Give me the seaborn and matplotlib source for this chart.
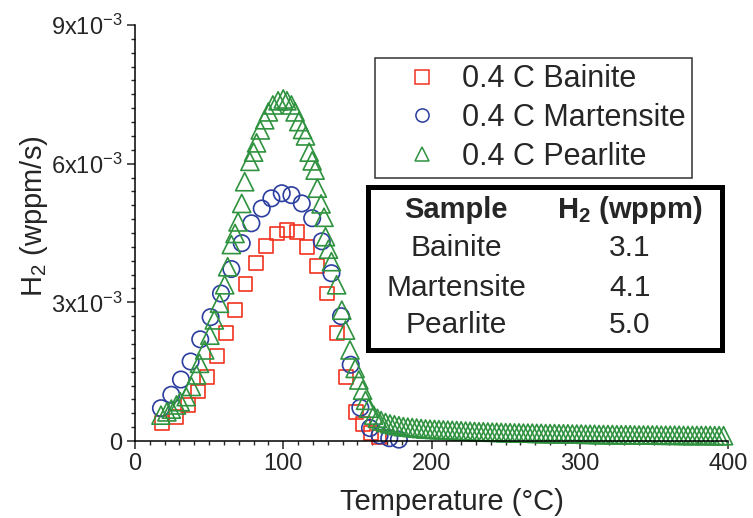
import matplotlib
matplotlib.use("Agg")
import matplotlib.pyplot as plt
from matplotlib.lines import Line2D
from matplotlib.patches import Rectangle
from matplotlib.ticker import MultipleLocator, FixedLocator
import seaborn as sns
import pandas as pd

# desorption rates, in 1e-3 wppm/s
bainite_T = [18.5, 27.5, 35.5, 42.5, 48.5, 55.5, 61.5, 67.5, 74.5, 81.5, 88.5, 95.5,
             102.5, 109, 116, 122.5, 129.5, 136.5, 142.5, 149, 154, 159, 164.5]
bainite_H = [0.39, 0.52, 0.78, 1.07, 1.39, 1.84, 2.33, 2.83, 3.40, 3.86, 4.22, 4.49,
             4.56, 4.52, 4.20, 3.79, 3.19, 2.33, 1.39, 0.63, 0.37, 0.17, 0.09]

martensite_T = [17.5, 24.5, 31, 37.5, 44, 51, 58, 65, 72, 78.5, 85.5, 92, 99,
                105.5, 112.5, 119.5, 126, 132.5, 139, 145.5, 152, 158.5, 165, 171.5, 178]
martensite_H = [0.71, 1.00, 1.33, 1.72, 2.20, 2.68, 3.19, 3.72, 4.28, 4.71, 5.03, 5.25, 5.36,
                5.32, 5.14, 4.82, 4.32, 3.63, 2.70, 1.65, 0.72, 0.28, 0.12, 0.06, 0.03]

pearlite_T = [17.5, 21.5, 24.5, 28, 30.5, 34.5, 38, 41.5, 43.5, 47, 50.5, 53.5, 57, 60.5,
              62.5, 65, 67.5, 69.5, 72, 74, 77.5, 80, 82, 84.5, 87.5, 90, 93, 96.5, 100,
              102.5, 105.5, 108, 110.5, 113, 115, 117.5, 119.5, 121.5, 123, 125.5, 127.5,
              128.5, 130.5, 132.5, 136, 139.5, 142, 145, 148.5, 151, 153.5, 155.5, 157.5,
              161, 163.5, 166,
              169, 172, 175, 178, 181, 184, 187, 190, 193, 196, 199, 202, 205, 208, 211,
              214, 217, 220, 223, 226, 229, 232, 235, 238, 241, 244, 247, 250, 253, 256,
              259, 262, 265, 268, 271, 274, 277, 280, 283, 286, 289, 292, 295, 298, 301,
              304, 307, 310, 313, 316, 319, 322, 325, 328, 331, 334, 337, 340, 343, 346,
              349, 352, 355, 358, 361, 364, 367, 370, 373, 376, 379, 382, 385, 388, 391,
              394, 397]
pearlite_H = [0.56, 0.63, 0.69, 0.78, 0.85, 0.96, 1.18, 1.43, 1.68, 1.97, 2.29, 2.62, 2.98, 3.38,
              3.77, 4.25, 4.49, 4.74, 5.14, 5.61, 6.05, 6.25, 6.45, 6.73, 6.95, 7.12, 7.27, 7.36, 7.40,
              7.36, 7.27, 7.12, 6.91, 6.74, 6.60, 6.25, 6.06, 5.86, 5.47, 5.13, 4.84,
              4.42, 4.15, 3.88, 3.38, 2.83, 2.40, 1.97, 1.57, 1.32, 1.10, 0.88, 0.71,
              0.56, 0.49, 0.44,
              0.40, 0.37, 0.35, 0.33, 0.31, 0.30, 0.29, 0.28, 0.27, 0.26, 0.255, 0.25, 0.245, 0.24, 0.235,
              0.23, 0.225, 0.22, 0.215, 0.21, 0.205, 0.20, 0.20, 0.195, 0.19, 0.19, 0.185, 0.18, 0.18, 0.175,
              0.175, 0.17, 0.17, 0.17, 0.165, 0.165, 0.16, 0.16, 0.16, 0.155, 0.155, 0.155, 0.15, 0.15, 0.15,
              0.145, 0.145, 0.145, 0.14, 0.14, 0.14, 0.14, 0.135, 0.135, 0.135, 0.135, 0.13, 0.13, 0.13, 0.13,
              0.13, 0.13, 0.125, 0.125, 0.125, 0.125, 0.125, 0.12, 0.12, 0.12, 0.12, 0.12, 0.12, 0.12, 0.115,
              0.115, 0.115]

series_labels = ["0.4 C Bainite", "0.4 C Martensite", "0.4 C Pearlite"]
scale = 1e-3

# inset table
table_samples = ["Bainite", "Martensite", "Pearlite"]
table_h2 = ["3.1", "4.1", "5.0"]

yticks = [0, 3e-3, 6e-3, 9e-3]
ytick_labels = ["0", "3x10$^{-3}$", "6x10$^{-3}$", "9x10$^{-3}$"]
xticks = [0, 100, 200, 300, 400]

sns.set_style("ticks")
plt.rcParams["font.family"] = ["Liberation Sans", "DejaVu Sans"]
plt.rcParams["mathtext.fontset"] = "custom"
plt.rcParams["mathtext.rm"] = "Liberation Sans"
plt.rcParams["mathtext.it"] = "Liberation Sans:italic"
plt.rcParams["mathtext.bf"] = "Liberation Sans:bold"

W, H = 753, 518
fig = plt.figure(figsize=(W / 100, H / 100), dpi=100)
ax = fig.add_axes([135 / W, 77 / H, 593 / W, 416 / H])

colors = ["#f2321f", "#2b3d9e", "#2f923f"]
markers = ["s", "o", "^"]
sizes = [100, 140, 170]

frames = []
for lab, T, Hs in zip(series_labels, [bainite_T, martensite_T, pearlite_T],
                      [bainite_H, martensite_H, pearlite_H]):
    frames.append(pd.DataFrame({"T": T, "rate": [h * scale for h in Hs], "sample": lab}))
df = pd.concat(frames, ignore_index=True)

for lab, c, m, s in zip(series_labels, colors, markers, sizes):
    sns.scatterplot(data=df[df["sample"] == lab], x="T", y="rate", marker=m, s=s,
                    color=c, edgecolor=c, linewidth=1.2, legend=False, ax=ax, clip_on=False)
    ax.collections[-1].set_facecolor("none")

ax.set_xlim(0, 400)
ax.set_ylim(0, 9e-3)
ax.xaxis.set_major_locator(FixedLocator(xticks))
ax.xaxis.set_minor_locator(MultipleLocator(10))
ax.yaxis.set_major_locator(FixedLocator(yticks))
ax.yaxis.set_minor_locator(MultipleLocator(0.3e-3))
ax.set_yticklabels(ytick_labels)
ax.tick_params(which="major", direction="out", length=6, width=1.1, labelsize=17, pad=3)
ax.tick_params(which="minor", direction="out", length=3, width=1.0)
sns.despine(ax=ax)
for sp in ["left", "bottom"]:
    ax.spines[sp].set_linewidth(1.1)
    ax.spines[sp].set_color("black")

ax.set_xlabel("Temperature (°C)", fontsize=21)
ax.set_ylabel("H$_2$ (wppm/s)", fontsize=21)
ax.xaxis.set_label_coords(0.535, -0.113)
ax.yaxis.set_label_coords(-0.143, 0.541)

handles = [Line2D([], [], ls="none", marker=m, ms=9.5, mfc="none", mec=c, mew=1.1)
           for m, c in zip(markers, colors)]
leg = ax.legend(handles, series_labels, loc="upper left",
                bbox_to_anchor=(375 / W, 1 - 58 / H), bbox_transform=fig.transFigure,
                borderaxespad=0, fontsize=22, frameon=True, fancybox=False,
                borderpad=0.21, handlelength=2.65, handletextpad=0.0, labelspacing=0.28)
leg.get_frame().set_edgecolor("#333333")
leg.get_frame().set_linewidth(1.1)
leg.get_frame().set_alpha(1)

# summary table with thick frame
fig.add_artist(Rectangle((368 / W, 1 - 350 / H), (722 - 368) / W, (350 - 187) / H,
                         transform=fig.transFigure, fill=False, lw=3.6, ec="black"))
fig.text(456 / W, 1 - 210 / H, "Sample", ha="center", va="center", fontsize=21, weight="bold")
fig.text(630 / W, 1 - 210 / H, r"H$_\mathbf{2}$ (wppm)", ha="center", va="center",
         fontsize=21, weight="bold")
for i, (smp, val) in enumerate(zip(table_samples, table_h2)):
    yy = [248, 288, 325][i]
    fig.text(456 / W, 1 - yy / H, smp, ha="center", va="center", fontsize=21.5)
    fig.text(630 / W, 1 - yy / H, val, ha="center", va="center", fontsize=21.5)

fig.savefig("out.png", dpi=100)
